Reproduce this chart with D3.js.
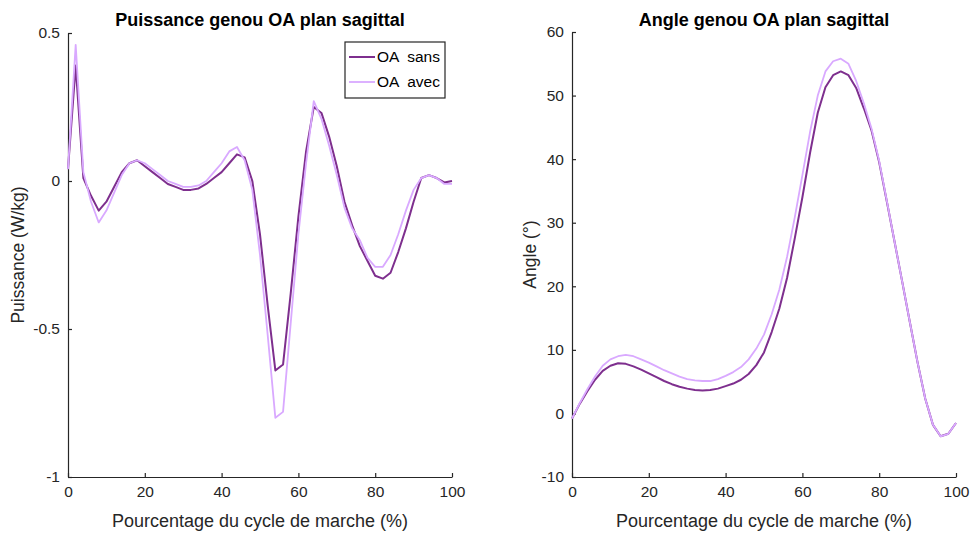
<!DOCTYPE html>
<html><head><meta charset="utf-8">
<script src="https://cdn.jsdelivr.net/npm/d3@7"></script>
<style>
body{margin:0;background:#fff;}
text{font-family:"Liberation Sans",Arial,Helvetica,sans-serif;}
</style></head>
<body><svg id="chart" width="975" height="535"></svg>
<script>
// ---- data (x = % of gait cycle, step 2) ----
const cycle = d3.range(0, 101, 2);
const powerSans = [0.04,0.39,0.01,-0.05,-0.10,-0.07,-0.02,0.03,0.06,0.07,0.05,0.03,0.01,-0.01,-0.02,-0.03,-0.03,-0.025,-0.01,0.01,0.03,0.06,0.09,0.08,0.00,-0.18,-0.42,-0.64,-0.62,-0.38,-0.12,0.10,0.25,0.23,0.15,0.05,-0.07,-0.15,-0.22,-0.27,-0.32,-0.33,-0.31,-0.24,-0.16,-0.07,0.01,0.02,0.01,-0.005,0.00];
const powerAvec = [0.04,0.46,0.03,-0.07,-0.14,-0.10,-0.04,0.02,0.06,0.07,0.06,0.04,0.02,0.00,-0.01,-0.02,-0.02,-0.015,0.00,0.03,0.06,0.10,0.115,0.07,-0.03,-0.25,-0.52,-0.80,-0.78,-0.48,-0.18,0.06,0.27,0.21,0.12,0.02,-0.09,-0.16,-0.20,-0.26,-0.29,-0.29,-0.25,-0.18,-0.10,-0.03,0.01,0.02,0.01,-0.01,-0.01];
const angleSans = [-0.8,1.5,3.5,5.3,6.7,7.5,7.9,7.8,7.4,6.9,6.3,5.7,5.1,4.6,4.2,3.9,3.7,3.6,3.7,3.9,4.3,4.7,5.3,6.2,7.6,9.6,12.8,16.5,21.3,27.5,34.0,41.0,47.3,51.3,53.2,53.8,53.2,51.2,48.0,44.5,39.5,33.3,27.0,20.7,14.3,8.0,2.3,-1.8,-3.6,-3.2,-1.5];
const angleAvec = [-0.8,1.6,3.8,5.8,7.5,8.5,9.0,9.2,9.0,8.5,8.0,7.4,6.8,6.3,5.8,5.4,5.2,5.1,5.1,5.4,5.9,6.5,7.3,8.5,10.2,12.4,15.6,19.5,24.6,30.8,37.5,44.3,50.0,53.8,55.4,55.8,55.0,52.3,48.8,44.8,39.7,33.4,27.0,20.7,14.3,8.0,2.3,-1.8,-3.6,-3.2,-1.5];
const seriesNames = ["OA  sans", "OA  avec"];
const xTicks = [0,20,40,60,80,100];
const powerTicks = [-1,-0.5,0,0.5];
const angleTicks = [-10,0,10,20,30,40,50,60];

const colSans = "#7E2F8E", colAvec = "#D9A9FF";
const axisCol = "#262626";
const svg = d3.select("#chart");

function panel(opts){
  const g = svg.append("g");
  const x = d3.scaleLinear().domain([0,100]).range(opts.xr);
  const y = d3.scaleLinear().domain(opts.yd).range(opts.yr);
  const xa = g.append("g").attr("transform",`translate(0,${opts.yr[0]})`)
    .call(d3.axisBottom(x).tickValues(xTicks).tickSizeInner(-4).tickSizeOuter(0).tickPadding(9));
  const ya = g.append("g").attr("transform",`translate(${opts.xr[0]},0)`)
    .call(d3.axisLeft(y).tickValues(opts.ticks).tickFormat(opts.fmt).tickSizeInner(-4).tickSizeOuter(0).tickPadding(8));
  [xa,ya].forEach(a=>{
    a.select(".domain").attr("stroke",axisCol).attr("stroke-width",1.2);
    a.selectAll(".tick line").attr("stroke",axisCol).attr("stroke-width",1.2);
    a.selectAll(".tick text").attr("fill",axisCol).style("font-size","15.5px");
  });
  const line = d3.line().x((d,i)=>x(cycle[i])).y(d=>y(d));
  g.append("path").datum(opts.s1).attr("d",line).attr("fill","none").attr("stroke",colSans).attr("stroke-width",2).attr("stroke-linejoin","round");
  g.append("path").datum(opts.s2).attr("d",line).attr("fill","none").attr("stroke",colAvec).attr("stroke-width",1.8).attr("stroke-linejoin","round");
  g.append("text").attr("x",(opts.xr[0]+opts.xr[1])/2).attr("y",26).attr("text-anchor","middle")
    .style("font-size","18px").style("font-weight","bold").attr("fill","#000").text(opts.title);
  g.append("text").attr("x",(opts.xr[0]+opts.xr[1])/2).attr("y",527).attr("text-anchor","middle")
    .style("font-size","18px").attr("fill",axisCol).text("Pourcentage du cycle de marche (%)");
  g.append("text").attr("transform",`translate(${opts.ylx},${(opts.yr[0]+opts.yr[1])/2}) rotate(-90)`)
    .attr("text-anchor","middle").style("font-size","17.5px").attr("fill",axisCol).text(opts.ylabel);
  return {g,x,y};
}

panel({xr:[68,452], yr:[477,33], yd:[-1,0.5], ticks:powerTicks,
  fmt:d=>d===0?"0":String(d), s1:powerSans, s2:powerAvec,
  title:"Puissance genou OA plan sagittal", ylabel:"Puissance (W/kg)", ylx:24});
panel({xr:[572,956], yr:[477,32], yd:[-10,60], ticks:angleTicks,
  fmt:d=>String(d), s1:angleSans, s2:angleAvec,
  title:"Angle genou OA plan sagittal", ylabel:"Angle (°)", ylx:536});

// legend
const lg = svg.append("g").attr("transform","translate(345,42)");
lg.append("rect").attr("width",100).attr("height",56).attr("fill","#fff").attr("stroke",axisCol).attr("stroke-width",1.2);
[colSans,colAvec].forEach((c,i)=>{
  const yy = 15 + i*25;
  lg.append("line").attr("x1",4).attr("x2",30).attr("y1",yy).attr("y2",yy).attr("stroke",c).attr("stroke-width",i?1.8:2);
  lg.append("text").attr("x",32).attr("y",yy+5).style("font-size","15.5px").attr("xml:space","preserve").attr("fill","#000").text(seriesNames[i]);
});
</script></body></html>
